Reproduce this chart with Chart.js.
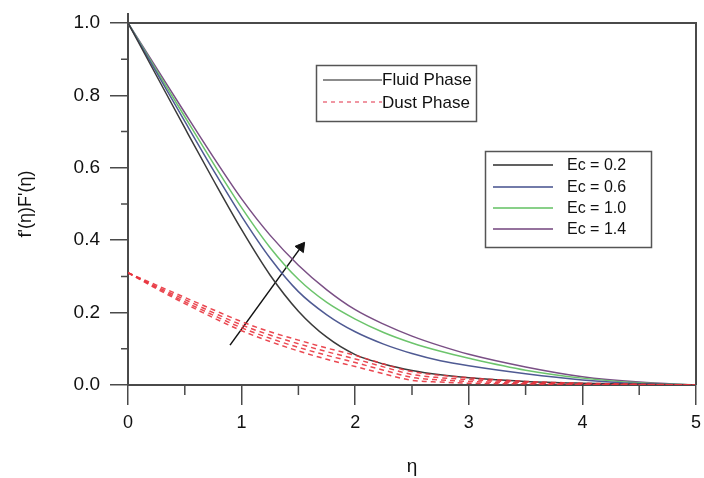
<!DOCTYPE html>
<html><head><meta charset="utf-8">
<script src="https://cdn.jsdelivr.net/npm/chart.js@4.4.1/dist/chart.umd.min.js"></script>
<style>html,body{margin:0;padding:0;background:#fff;}</style>
</head><body>
<canvas id="c" width="704" height="478"></canvas>
<script>
// ---- data ----
const eta = [0, 0.25, 0.5, 0.75, 1.0, 1.25, 1.5, 1.75, 2.0, 2.25, 2.5, 2.75, 3.0, 3.5, 4.0, 4.5, 5.0];
const ecLabels = ['Ec = 0.2', 'Ec = 0.6', 'Ec = 1.0', 'Ec = 1.4'];
const fluidEc02 = [1.0, 0.855, 0.710, 0.567, 0.429, 0.304, 0.204, 0.132, 0.084, 0.058, 0.040, 0.028, 0.020, 0.010, 0.005, 0.002, 0];
const fluidEc06 = [1.0, 0.864, 0.728, 0.594, 0.466, 0.351, 0.258, 0.194, 0.147, 0.113, 0.087, 0.067, 0.053, 0.031, 0.014, 0.004, 0];
const fluidEc10 = [1.0, 0.870, 0.741, 0.613, 0.490, 0.380, 0.292, 0.228, 0.182, 0.145, 0.116, 0.093, 0.074, 0.041, 0.019, 0.006, 0];
const fluidEc14 = [1.0, 0.876, 0.752, 0.630, 0.514, 0.414, 0.331, 0.263, 0.208, 0.168, 0.135, 0.108, 0.085, 0.050, 0.023, 0.008, 0];
const dustEc02 = [0.31, 0.266, 0.225, 0.186, 0.150, 0.120, 0.094, 0.071, 0.051, 0.031, 0.013, 0.008, 0.005, 0.003, 0.001, 0, 0];
const dustEc06 = [0.31, 0.269, 0.230, 0.193, 0.158, 0.129, 0.104, 0.082, 0.062, 0.041, 0.021, 0.014, 0.010, 0.005, 0.002, 0.001, 0];
const dustEc10 = [0.31, 0.272, 0.236, 0.200, 0.166, 0.138, 0.114, 0.092, 0.072, 0.050, 0.029, 0.020, 0.015, 0.007, 0.003, 0.001, 0];
const dustEc14 = [0.31, 0.276, 0.242, 0.208, 0.175, 0.147, 0.124, 0.102, 0.082, 0.058, 0.037, 0.027, 0.020, 0.010, 0.005, 0.002, 0];
const arrowEta = [0.898, 1.523];
const arrowVal = [0.110, 0.381];
const xTicksMajor = [0, 1, 2, 3, 4, 5];
const yTicksMajor = [0, 0.2, 0.4, 0.6, 0.8, 1.0];

const ecColors = ['#3a3a3a', '#4f5a93', '#6cc46c', '#7a4f85'];
const dustColor = 'rgba(232,52,62,0.9)';
const axisColor = '#4a4a4a';
const FONT = '"Liberation Sans", Arial, sans-serif';

function pts(vals) { return eta.map((e, i) => ({ x: e, y: vals[i] })); }

const fluid = [fluidEc02, fluidEc06, fluidEc10, fluidEc14];
const dust = [dustEc02, dustEc06, dustEc10, dustEc14];
const datasets = [];
dust.forEach((d, i) => datasets.push({
  label: 'Dust ' + ecLabels[i], data: pts(d), borderColor: dustColor, borderWidth: 1.5,
  borderDash: [5, 4], pointRadius: 0, cubicInterpolationMode: 'monotone', fill: false
}));
fluid.forEach((d, i) => datasets.push({
  label: 'Fluid ' + ecLabels[i], data: pts(d), borderColor: ecColors[i], borderWidth: 1.5,
  pointRadius: 0, cubicInterpolationMode: 'monotone', fill: false
}));
datasets.push({
  label: 'arrow', data: arrowEta.map((e, i) => ({ x: e, y: arrowVal[i] })),
  borderColor: '#111', borderWidth: 1.5, backgroundColor: '#111',
  pointStyle: 'triangle', pointRadius: [0, 6], pointRotation: [0, 37], pointBorderWidth: 1
});

const framePlugin = {
  id: 'frame',
  afterDraw(chart) {
    const ctx = chart.ctx, a = chart.chartArea, xs = chart.scales.x, ys = chart.scales.y;
    ctx.save();
    ctx.strokeStyle = axisColor; ctx.lineWidth = 2;
    ctx.beginPath();
    ctx.moveTo(a.left, a.top - 10); ctx.lineTo(a.left, a.top);
    ctx.moveTo(a.left, a.top); ctx.lineTo(a.right, a.top); ctx.lineTo(a.right, a.bottom);
    ctx.stroke();
    ctx.lineWidth = 1.5;
    ctx.beginPath();
    for (let v = 0.5; v < 5; v += 1) { const px = xs.getPixelForValue(v); ctx.moveTo(px, a.bottom); ctx.lineTo(px, a.bottom + 10); }
    for (let v = 0.1; v < 1; v += 0.2) { const py = ys.getPixelForValue(v); ctx.moveTo(a.left - 7, py); ctx.lineTo(a.left, py); }
    ctx.stroke();

    // legend 1
    ctx.lineWidth = 1.5; ctx.strokeStyle = '#555';
    ctx.strokeRect(316.5, 65.5, 160, 56);
    ctx.font = '17px ' + FONT; ctx.fillStyle = '#111'; ctx.textBaseline = 'middle'; ctx.textAlign = 'left';
    ctx.strokeStyle = '#666'; ctx.lineWidth = 1.5;
    ctx.beginPath(); ctx.moveTo(323, 80); ctx.lineTo(382, 80); ctx.stroke();
    ctx.fillText('Fluid Phase', 382, 80);
    ctx.strokeStyle = 'rgba(230,80,100,0.8)'; ctx.setLineDash([4, 4]);
    ctx.beginPath(); ctx.moveTo(323, 102); ctx.lineTo(382, 102); ctx.stroke();
    ctx.setLineDash([]);
    ctx.fillText('Dust Phase', 382, 103);

    // legend 2
    ctx.font = '16px ' + FONT;
    ctx.strokeStyle = '#555'; ctx.lineWidth = 1.5;
    ctx.strokeRect(485.5, 151.5, 166, 96);
    const ly = [165, 187, 208, 229];
    ecLabels.forEach((t, i) => {
      ctx.strokeStyle = ecColors[i]; ctx.globalAlpha = 0.8; ctx.lineWidth = 2;
      ctx.beginPath(); ctx.moveTo(493, ly[i]); ctx.lineTo(553, ly[i]); ctx.stroke();
      ctx.globalAlpha = 1;
      ctx.fillText(t, 567, ly[i] + 1);
    });
    ctx.restore();
  }
};

new Chart(document.getElementById('c'), {
  type: 'line',
  data: { datasets },
  options: {
    responsive: false, animation: false, devicePixelRatio: 1,
    layout: { padding: { top: 23, right: 8, left: 0, bottom: 0 } },
    plugins: { legend: { display: false }, tooltip: { enabled: false } },
    scales: {
      x: {
        type: 'linear', min: 0, max: 5,
        afterFit(s) { s.height = 93; s.paddingRight = 0; s.paddingLeft = 0; },
        afterBuildTicks(s) { s.ticks = xTicksMajor.map(v => ({ value: v })); },
        ticks: { font: { size: 18, family: FONT }, color: '#111', padding: 7, callback: v => String(v) },
        grid: { drawOnChartArea: false, tickLength: 20, color: axisColor, lineWidth: 1.5 },
        border: { display: true, color: axisColor, width: 2 },
        title: { display: true, text: 'η', font: { size: 19, family: FONT }, color: '#111', padding: { top: 0, bottom: 0 } }
      },
      y: {
        type: 'linear', min: 0, max: 1,
        afterFit(s) { s.width = 128; s.paddingTop = 0; s.paddingBottom = 0; },
        afterBuildTicks(s) { s.ticks = yTicksMajor.map(v => ({ value: v })); },
        ticks: { font: { size: 19, family: FONT }, color: '#111', padding: 10, callback: v => v.toFixed(1) },
        grid: { drawOnChartArea: false, tickLength: 18, color: axisColor, lineWidth: 1.5 },
        border: { display: true, color: axisColor, width: 2 },
        title: { display: true, text: "f'(η)F'(η)", font: { size: 18, family: FONT }, color: '#111', padding: { top: 15, bottom: 0 } }
      }
    }
  },
  plugins: [framePlugin]
});
</script>
</body></html>
